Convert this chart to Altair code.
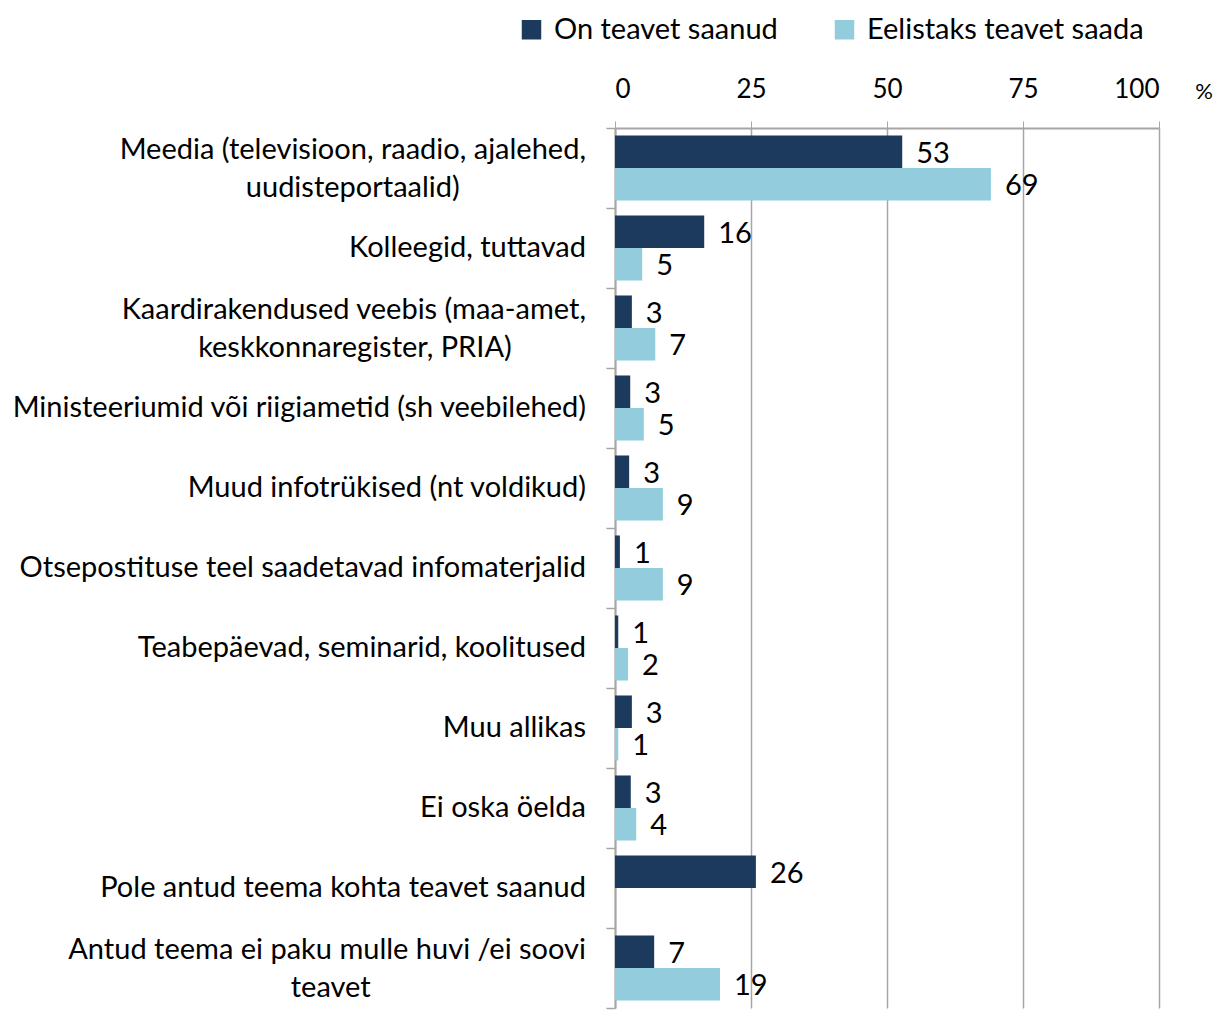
import altair as alt
import pandas as pd

# category labels, one list of lines per category
categories = [
    ["Meedia (televisioon, raadio, ajalehed,", "uudisteportaalid)"],
    ["Kolleegid, tuttavad"],
    ["Kaardirakendused veebis (maa-amet,", "keskkonnaregister, PRIA)"],
    ["Ministeeriumid või riigiametid (sh veebilehed)"],
    ["Muud infotrükised (nt voldikud)"],
    ["Otsepostituse  teel saadetavad infomaterjalid"],
    ["Teabepäevad, seminarid, koolitused"],
    ["Muu allikas"],
    ["Ei oska öelda"],
    ["Pole antud teema kohta teavet saanud"],
    ["Antud teema ei paku mulle huvi /ei soovi", "teavet"],
]
series = ["On teavet saanud", "Eelistaks teavet saada"]
received = [52.8, 16.4, 3.1, 2.8, 2.6, 0.9, 0.6, 3.1, 2.9, 25.9, 7.2]
preferred = [69.1, 5.0, 7.4, 5.3, 8.8, 8.8, 2.4, 0.6, 3.9, 0.0, 19.3]
x_ticks = [0, 25, 50, 75, 100]
colors = ["#1b3a5e", "#93cddd"]

# styling only: non-breaking spaces that centre a wrapped second line under the first
second_line_pad = {0: 17, 2: 10, 10: 29}

cat_keys = [" ".join(lines) for lines in categories]

rows = []
for k, r, p in zip(cat_keys, received, preferred):
    rows.append({"cat": k, "series": series[0], "value": r})
    rows.append({"cat": k, "series": series[1], "value": p})
df = pd.DataFrame(rows)

label_rows = []
for i, (k, lines) in enumerate(zip(cat_keys, categories)):
    if len(lines) == 1:
        label_rows.append({"cat": k, "slot": "b", "txt": lines[0]})
    else:
        label_rows.append({"cat": k, "slot": "a", "txt": lines[0]})
        pad = "\u00a0" * second_line_pad.get(i, 0) + "\u200b"
        label_rows.append({"cat": k, "slot": "c", "txt": lines[1] + pad})
df_lab = pd.DataFrame(label_rows)

FONT = "Lato"

bars = alt.Chart(df).mark_bar().encode(
    y=alt.Y(
        "cat:N",
        sort=cat_keys,
        scale=alt.Scale(paddingInner=0, paddingOuter=0),
        axis=alt.Axis(
            title=None,
            labels=False,
            tickBand="extent",
            tickSize=9,
            domainColor="#a6a6a6",
            tickColor="#a6a6a6",
            domainWidth=2,
            tickWidth=1.5,
        ),
    ),
    yOffset=alt.YOffset(
        "series:N", sort=series, scale=alt.Scale(paddingOuter=0.23, paddingInner=0)
    ),
    x=alt.X(
        "value:Q",
        scale=alt.Scale(domain=[0, 100]),
        axis=alt.Axis(
            orient="top",
            values=x_ticks,
            title=None,
            grid=True,
            gridColor="#a6a6a6",
            gridWidth=1.5,
            tickSize=7,
            tickColor="#a6a6a6",
            domainColor="#a6a6a6",
            domainWidth=2,
            labelFontSize=26,
            labelPadding=19,
        ),
    ),
    color=alt.Color(
        "series:N",
        sort=series,
        scale=alt.Scale(domain=series, range=colors),
        legend=alt.Legend(
            title=None,
            orient="none",
            legendX=-98,
            legendY=-113,
            direction="horizontal",
            symbolType="square",
            symbolSize=380,
            symbolStrokeWidth=0,
            labelFontSize=29,
            labelFont=FONT,
            labelColor="black",
            labelLimit=600,
            columnPadding=52,
            labelOffset=8,
        ),
    ),
)

values = (
    alt.Chart(df)
    .transform_filter("datum.value > 0")
    .mark_text(align="left", baseline="middle", dx=14, dy=2, fontSize=29, font=FONT, color="black")
    .encode(
        y=alt.Y("cat:N", sort=cat_keys),
        yOffset=alt.YOffset("series:N", sort=series),
        x=alt.X("value:Q"),
        text=alt.Text("value:Q", format=".0f"),
    )
)


def label_layer(slot, dy):
    return (
        alt.Chart(df_lab)
        .transform_filter(alt.datum.slot == slot)
        .mark_text(align="right", baseline="middle", dy=dy, fontSize=29, font=FONT, color="black")
        .encode(
            y=alt.Y("cat:N", sort=cat_keys),
            x=alt.value(-29),
            text="txt:N",
        )
    )


pct = (
    alt.Chart(pd.DataFrame({"t": ["%"]}))
    .mark_text(fontSize=22, font=FONT, color="black", align="center", baseline="middle")
    .encode(text="t:N", x=alt.value(589), y=alt.value(-36))
)

chart = (
    alt.layer(bars, values, label_layer("a", -18), label_layer("b", 0), label_layer("c", 20), pct)
    .properties(
        width=544,
        height=880,
        autosize=alt.AutoSizeParams(type="none"),
        padding={"left": 607, "top": 120, "right": 55, "bottom": 2},
    )
    .configure_axis(labelFont=FONT, labelColor="black")
    .configure_view(stroke=None)
)

chart.save("out.html", embed_options={"renderer": "svg", "actions": False})
